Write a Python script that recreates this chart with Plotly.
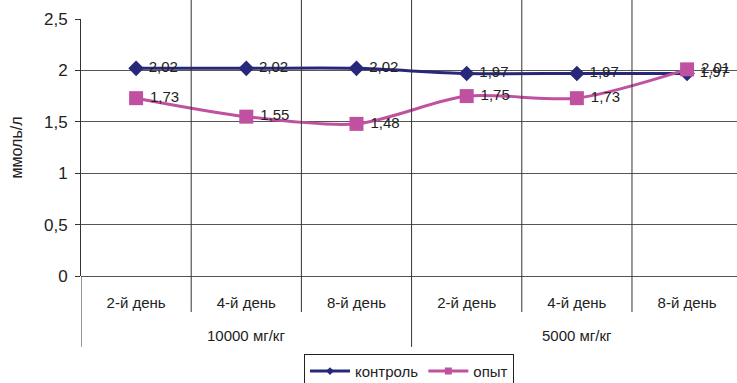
import plotly.graph_objects as go

# Categories: dose groups and observation days
groups = ["10000 мг/кг", "5000 мг/кг"]
days = ["2-й день", "4-й день", "8-й день"]

# Blood level, mmol/l
control = [2.02, 2.02, 2.02, 1.97, 1.97, 1.97]
experiment = [1.73, 1.55, 1.48, 1.75, 1.73, 2.01]

y_ticks = [0, 0.5, 1, 1.5, 2, 2.5]

n_days = len(days)
x_idx = list(range(len(groups) * n_days))
x_labels = [d for _ in groups for d in days]

FONT = "Liberation Sans, Arial, sans-serif"
GRID = "#555555"
C_CTRL = "#27287a"
C_EXP = "#c051a0"

series = [
    ("контроль", control, C_CTRL, "diamond", 12, 6),
    ("опыт", experiment, C_EXP, "square", 14, 7),
]

fig = go.Figure()
for name, vals, color, symbol, msize, lsize in series:
    fig.add_trace(go.Scatter(
        x=x_idx, y=vals, name=name, showlegend=False,
        mode="lines+markers+text",
        line=dict(color=color, width=3, shape="spline", smoothing=0.8),
        marker=dict(symbol=symbol, size=msize, color=color),
        texttemplate=" %{y:.2f}", textposition="middle right",
        textfont=dict(family=FONT, size=15, color="#222222"),
    ))
# Legend entries with smaller symbols
for name, vals, color, symbol, msize, lsize in series:
    fig.add_trace(go.Scatter(
        x=[None], y=[None], name=name, mode="lines+markers",
        line=dict(color=color, width=3),
        marker=dict(symbol=symbol, size=lsize, color=color),
    ))

# Category separators below the axis and vertical grid lines
shapes = []
for k in range(len(x_idx)):
    b = k - 0.5
    y0 = -0.276 if k % n_days == 0 else -0.14
    y1 = 0 if k == 0 else 1.074
    shapes.append(dict(type="line", xref="x", yref="paper", x0=b, x1=b,
                       y0=y0, y1=y1, line=dict(color="#333333", width=1)))

annotations = []
for g, name in enumerate(groups):
    center = g * n_days + (n_days - 1) / 2
    annotations.append(dict(x=center, xref="x", y=-0.23, yref="paper",
                            yanchor="middle", xanchor="center",
                            text=name, showarrow=False,
                            font=dict(family=FONT, size=15, color="#222222")))
annotations.append(dict(x=-0.0976, xref="paper", y=0.5, yref="paper",
                        xanchor="center", yanchor="middle",
                        text="ммоль/л", textangle=-90, showarrow=False,
                        font=dict(family=FONT, size=16, color="#222222")))

fig.update_layout(
    width=737, height=383,
    margin=dict(l=81, r=0, t=19, b=107, autoexpand=False),
    paper_bgcolor="white", plot_bgcolor="white",
    separators=", ",
    showlegend=True,
    legend=dict(orientation="h", x=0.5, xanchor="center", y=-0.303,
                yanchor="top", bordercolor="#222222", borderwidth=1,
                font=dict(family=FONT, size=15, color="#222222"),
                itemwidth=40, tracegroupgap=0),
    shapes=shapes,
    annotations=annotations,
    xaxis=dict(range=[-0.5, 5.453], tickvals=x_idx, ticktext=x_labels,
               showgrid=False, zeroline=False, ticks="",
               tickfont=dict(family=FONT, size=15, color="#222222"),
               ticklabelstandoff=16, fixedrange=True, automargin=False),
    yaxis=dict(range=[0, 2.5], tickvals=y_ticks, showgrid=True,
               gridcolor=GRID, gridwidth=1, zeroline=True,
               zerolinecolor=GRID, zerolinewidth=1,
               showline=True, linecolor="#333333", linewidth=1,
               ticks="outside", ticklen=5, tickcolor="#333333",
               tickfont=dict(family=FONT, size=17, color="#222222"),
               ticklabelstandoff=4, automargin=False),
)

fig.write_html("out.html")
